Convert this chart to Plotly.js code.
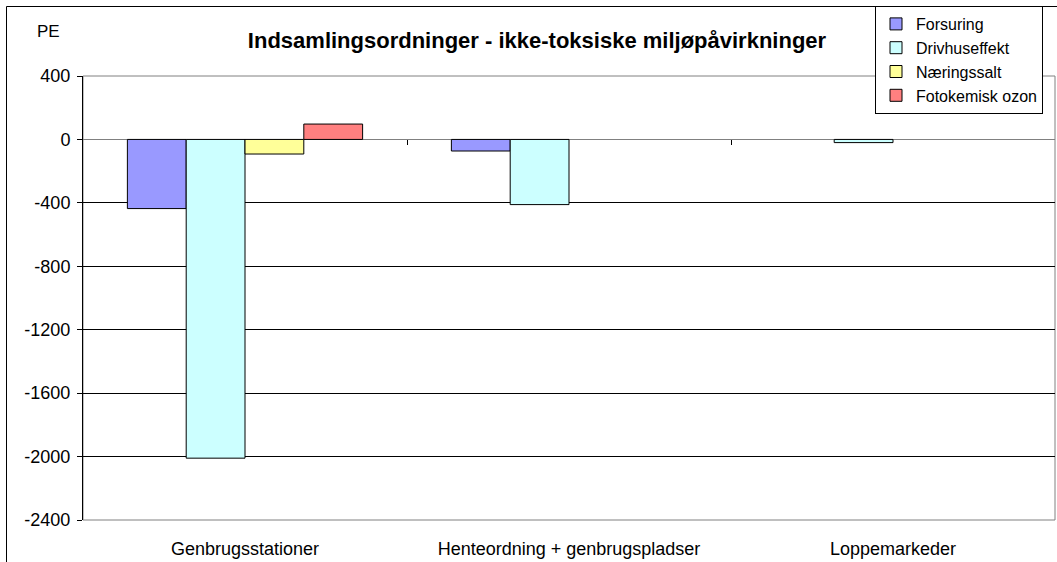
<!DOCTYPE html>
<html><head><meta charset="utf-8">
<script src="https://cdn.plot.ly/plotly-3.0.1.min.js"></script>
<style>body{margin:0;background:#fff}#c{width:1057px;height:562px}</style>
</head><body><div id="c"></div>
<script>
const categories = ["Genbrugsstationer", "Henteordning + genbrugspladser", "Loppemarkeder"];
const forsuring = [-436, -73, null];
const drivhuseffekt = [-2010, -411, -20];
const naeringssalt = [-92, null, null];
const fotokemisk = [97, null, null];
const seriesNames = ["Forsuring", "Drivhuseffekt", "Næringssalt", "Fotokemisk ozon"];
const seriesColors = ["#9999ff", "#ccffff", "#ffff99", "#ff8080"];
const yTicks = [400, 0, -400, -800, -1200, -1600, -2000, -2400];
const yTickText = ["400", "0", "-400", "-800", "-1200", "-1600", "-2000", "-2400"];

const font = "Liberation Sans, Arial, sans-serif";
const data = [forsuring, drivhuseffekt, naeringssalt, fotokemisk].map((v, i) => ({
  type: "bar", x: categories, y: v, name: seriesNames[i],
  marker: {color: seriesColors[i], line: {color: "#000", width: 1}},
  hoverinfo: "x+y+name"
}));
data.push({type: "scatter", x: [], y: [], xaxis: "x2", yaxis: "y", showlegend: false, hoverinfo: "skip"});

const L = 83, R = 2, T = 76, B = 42, W = 1057, H = 562;
const plotW = W - L - R, plotH = H - T - B;
const yr = [-2400, 400];
const zeroPos = (0 - yr[0]) / (yr[1] - yr[0]);

const layout = {
  width: W, height: H,
  margin: {l: L, r: R, t: T, b: B},
  paper_bgcolor: "#fff", plot_bgcolor: "#fff",
  font: {family: font, size: 18, color: "#000"},
  title: {text: "<b>Indsamlingsordninger - ikke-toksiske miljøpåvirkninger</b>",
          font: {family: font, size: 22, color: "#000"},
          x: 537 / W, xanchor: "center", y: 1 - 40 / H, yanchor: "middle"},
  barmode: "group", bargap: 0.274, bargroupgap: 0,
  showlegend: true,
  legend: {x: (875 - L) / plotW, xanchor: "left", y: (H - B - 6) / plotH, yanchor: "top",
           bgcolor: "#fff", bordercolor: "#000", borderwidth: 1,
           font: {family: font, size: 16, color: "#000"}, tracegroupgap: 0, itemwidth: 30},
  xaxis: {type: "category", range: [-0.5, 2.5], showgrid: false, zeroline: false,
          showline: false, ticks: "", tickfont: {size: 18}, fixedrange: true,
          ticklabelstandoff: 16},
  xaxis2: {overlaying: "x", anchor: "free", position: zeroPos, type: "linear",
           range: [-0.5, 2.5], tickvals: [0.5, 1.5], ticks: "outside", ticklen: 5,
           tickcolor: "#000", tickwidth: 1, showticklabels: false, showgrid: false, zeroline: false,
           showline: false, side: "bottom", fixedrange: true},
  yaxis: {range: yr, tickvals: yTicks, ticktext: yTickText, ticks: "outside", ticklen: 5, tickcolor: "#000",
          showline: true, linecolor: "#000", linewidth: 1, mirror: false,
          gridcolor: "#000", gridwidth: 1, zeroline: true, zerolinecolor: "#808080",
          zerolinewidth: 1, tickfont: {size: 18}, fixedrange: true, automargin: false,
          ticklabelstandoff: 3},
  shapes: [
    {type: "rect", xref: "paper", yref: "paper", x0: 0, x1: 1, y0: 0, y1: 1,
     line: {color: "#808080", width: 1}, layer: "below"},
    {type: "rect", xref: "paper", yref: "paper", x0: (6.5 - L) / plotW, x1: (W + 10 - L) / plotW,
     y0: -(B + 10) / plotH, y1: (H - B - 6.5) / plotH, line: {color: "#000", width: 1}}
  ],
  annotations: [{text: "PE", xref: "paper", yref: "paper", x: (35 - L) / plotW, xanchor: "left",
                 y: (H - B - 32) / plotH, yanchor: "middle", showarrow: false,
                 font: {family: font, size: 17, color: "#000"}}]
};
Plotly.newPlot("c", data, layout, {displayModeBar: false});
</script></body></html>
